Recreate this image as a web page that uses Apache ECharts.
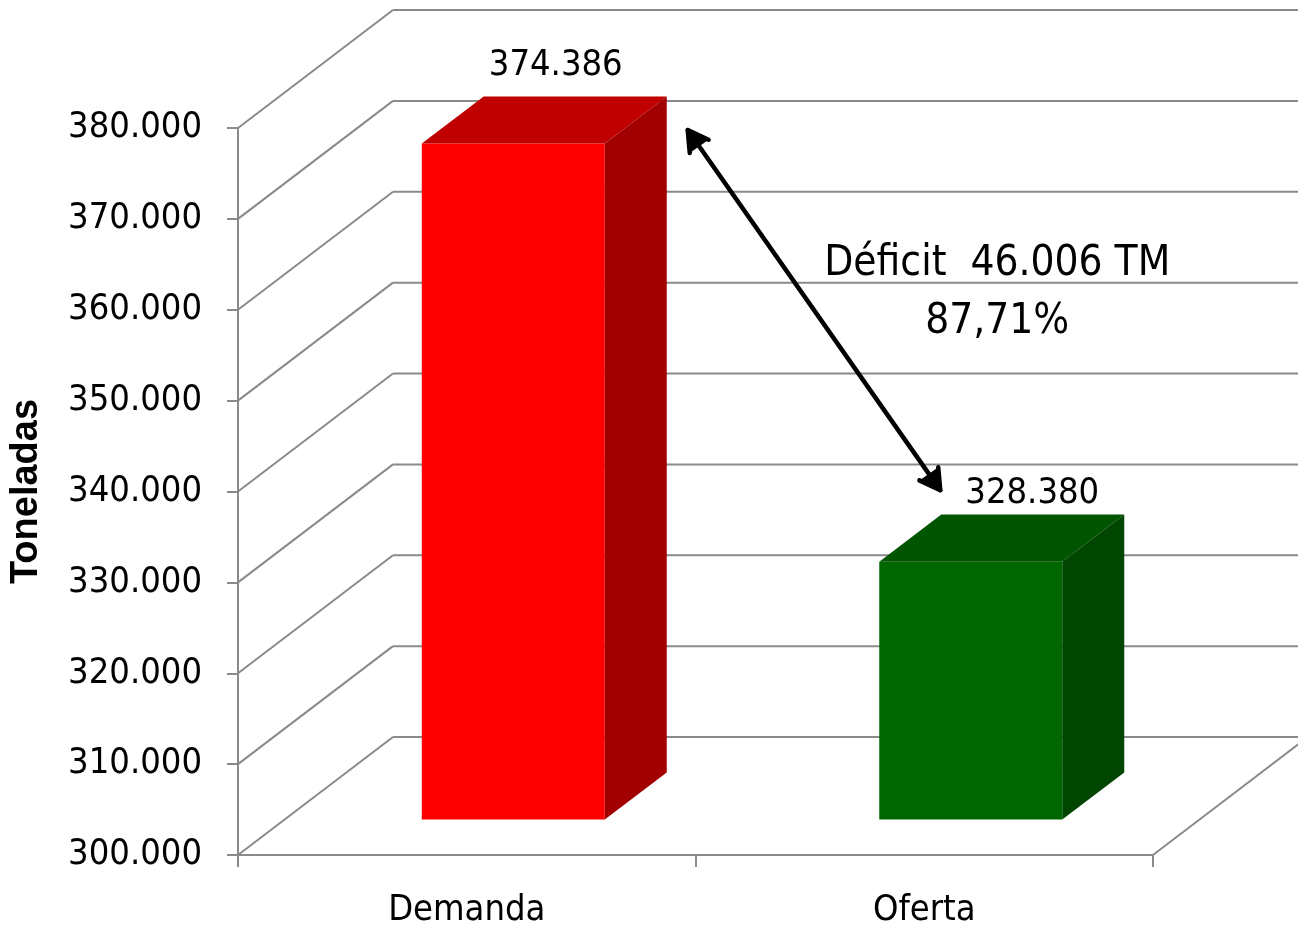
<!DOCTYPE html>
<html><head><meta charset="utf-8">
<script src="https://cdn.jsdelivr.net/npm/echarts/dist/echarts.min.js"></script>
<style>html,body{margin:0;padding:0;background:#fff}#c{width:1298px;height:932px}</style>
</head><body><div id="c"></div>
<script>
// ---- data ----
const categories = ['Demanda', 'Oferta'];
const values = [374386, 328380];
const yMin = 300000;
const yMax = 380000;
const yStep = 10000;
const yTicks = [300000, 310000, 320000, 330000, 340000, 350000, 360000, 370000, 380000];
const unit = 'TM';

// ---- styles ----
const frontColors = ['#FF0000', '#006600'];
const topColors = ['#C00000', '#005500'];
const sideColors = ['#A20000', '#004500'];
const gridColor = '#8a8a8a';
const FONT = "'DejaVu Sans Condensed', 'DejaVu Sans', sans-serif";
const DEPTH = [155, -118];           // full depth offset of the 3D box (px)
const BAR_FRONT = 0.3, BAR_BACK = 0.7; // bar depth position (fraction)
const BAR_W = 0.4;                    // fraction of category band
const labelOffsets = [[89, -95], [108, -85]];

function fmt(v) { return String(Math.round(v)).replace(/\B(?=(\d{3})+(?!\d))/g, '.'); }

const chart = echarts.init(document.getElementById('c'), null, {renderer: 'canvas'});

const option = {
  animation: false,
  backgroundColor: '#ffffff',
  grid: {left: 238, right: 145, top: 128, bottom: 77},
  xAxis: {
    type: 'category',
    data: categories,
    boundaryGap: true,
    axisLine: {show: true, lineStyle: {color: gridColor, width: 2}},
    axisTick: {show: true, length: 12, alignWithLabel: false, lineStyle: {color: gridColor, width: 2}},
    axisLabel: {fontFamily: FONT, fontSize: 36, color: '#000', margin: 38},
    splitLine: {show: false}
  },
  yAxis: {
    type: 'value',
    min: yMin, max: yMax, interval: yStep,
    name: 'Toneladas',
    nameLocation: 'middle',
    nameRotate: 90,
    nameGap: 192,
    nameTextStyle: {fontFamily: "'Liberation Sans', Arial, sans-serif", fontWeight: 'bold', fontSize: 38, color: '#000'},
    axisLine: {show: true, lineStyle: {color: gridColor, width: 2}},
    axisTick: {show: true, length: 11, lineStyle: {color: gridColor, width: 2}},
    axisLabel: {fontFamily: FONT, fontSize: 36, color: '#000', margin: 36, formatter: fmt},
    splitLine: {show: false}
  },
  series: [
    {
      type: 'custom',
      z: 1,
      silent: true,
      data: yTicks.map(v => [0, v]),
      encode: {x: 0, y: 1},
      renderItem: function (params, api) {
        const v = api.value(1);
        const p = api.coord([0, v]);
        const bw = api.size([1, 0])[0];
        const L = p[0] - bw / 2;
        const R = L + bw * categories.length;
        const y = p[1];
        const ls = {stroke: gridColor, lineWidth: 2};
        const ch = [
          {type: 'line', shape: {x1: L, y1: y, x2: L + DEPTH[0], y2: y + DEPTH[1]}, style: ls},
          {type: 'line', shape: {x1: L + DEPTH[0], y1: y + DEPTH[1], x2: R + DEPTH[0], y2: y + DEPTH[1]}, style: ls}
        ];
        if (v === yMin) {
          ch.push({type: 'line', shape: {x1: R, y1: y, x2: R + DEPTH[0], y2: y + DEPTH[1]}, style: ls});
        }
        return {type: 'group', children: ch};
      }
    },
    {
      type: 'custom',
      z: 5,
      data: values.map((v, i) => [i, v]),
      encode: {x: 0, y: 1},
      renderItem: function (params, api) {
        const i = api.value(0);
        const v = api.value(1);
        const top = api.coord([i, v]);
        const base = api.coord([i, yMin]);
        const bw = api.size([1, 0])[0];
        const w = bw * BAR_W;
        const fdx = DEPTH[0] * BAR_FRONT, fdy = DEPTH[1] * BAR_FRONT;
        const sdx = DEPTH[0] * (BAR_BACK - BAR_FRONT), sdy = DEPTH[1] * (BAR_BACK - BAR_FRONT);
        const x0 = top[0] - w / 2 + fdx, x1 = x0 + w;
        const yt = top[1] + fdy, yb = base[1] + fdy;
        return {type: 'group', children: [
          {type: 'polygon', shape: {points: [[x0, yt], [x1, yt], [x1, yb], [x0, yb]]}, style: {fill: frontColors[i]}},
          {type: 'polygon', shape: {points: [[x0, yt], [x1, yt], [x1 + sdx, yt + sdy], [x0 + sdx, yt + sdy]]}, style: {fill: topColors[i]}},
          {type: 'polygon', shape: {points: [[x1, yt], [x1 + sdx, yt + sdy], [x1 + sdx, yb + sdy], [x1, yb]]}, style: {fill: sideColors[i]}},
          {type: 'text', style: {text: fmt(v), x: top[0] + labelOffsets[i][0], y: top[1] + labelOffsets[i][1],
            align: 'center', verticalAlign: 'bottom', fontFamily: FONT, fontSize: 36, fill: '#000'}}
        ]};
      }
    },
    {
      type: 'custom',
      z: 6,
      silent: true,
      data: [[0, values[0]]],
      encode: {x: 0, y: 1},
      renderItem: function (params, api) {
        const p0 = api.coord([0, values[0]]);
        const p1 = api.coord([1, values[1]]);
        const pTop = api.coord([1, yMax]);
        const s = [p0[0] + 221, p0[1] - 49];
        const e = [p1[0] + 16, p1[1] - 107];
        const ang = Math.atan2(e[1] - s[1], e[0] - s[0]);
        const hl = 23, ha = Math.PI / 6;
        const ls = {stroke: '#000', lineWidth: 4.5, lineCap: 'round', lineJoin: 'round'};
        function head(pt, a) {
          return {type: 'polyline', shape: {points: [
            [pt[0] + hl * Math.cos(a + ha), pt[1] + hl * Math.sin(a + ha)],
            pt,
            [pt[0] + hl * Math.cos(a - ha), pt[1] + hl * Math.sin(a - ha)]
          ]}, style: ls};
        }
        const deficit = values[0] - values[1];
        const pct = (values[1] / values[0] * 100).toFixed(2).replace('.', ',');
        return {type: 'group', children: [
          {type: 'line', shape: {x1: s[0], y1: s[1], x2: e[0], y2: e[1]}, style: ls},
          head(s, ang),
          head(e, ang + Math.PI),
          {type: 'text', style: {text: 'Déficit  ' + fmt(deficit) + ' ' + unit, x: p1[0] + 73, y: pTop[1] + 136,
            align: 'center', verticalAlign: 'middle', fontFamily: FONT, fontSize: 42, fill: '#000'}},
          {type: 'text', style: {text: pct + '%', x: p1[0] + 73, y: pTop[1] + 194,
            align: 'center', verticalAlign: 'middle', fontFamily: FONT, fontSize: 42, fill: '#000'}}
        ]};
      }
    }
  ]
};
chart.setOption(option);
</script>
</body></html>
